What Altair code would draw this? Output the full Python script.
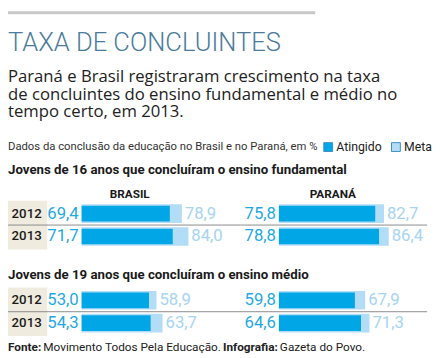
import altair as alt
import pandas as pd

# ---------------- data ----------------
title_text = "TAXA DE CONCLUINTES"
subtitle_lines = [
    "Paraná e Brasil registraram crescimento na taxa",
    "de concluintes do ensino fundamental e médio no",
    "tempo certo, em 2013.",
]
legend_caption = "Dados da conclusão da educação no Brasil e no Paraná, em %"
series = ["Atingido", "Meta"]
sections = [
    "Jovens de 16 anos que concluíram o ensino fundamental",
    "Jovens de 19 anos que concluíram o ensino médio",
]
regions = ["BRASIL", "PARANÁ"]
years = ["2012", "2013"]

fund_brasil_atingido = [69.4, 71.7]
fund_brasil_meta = [78.9, 84.0]
fund_parana_atingido = [75.8, 78.8]
fund_parana_meta = [82.7, 86.4]
medio_brasil_atingido = [53.0, 54.3]
medio_brasil_meta = [58.9, 63.7]
medio_parana_atingido = [59.8, 64.6]
medio_parana_meta = [67.9, 71.3]

footer_parts = ["Fonte:", "Movimento Todos Pela Educação.", "Infografia:", "Gazeta do Povo."]

values = {
    (0, "BRASIL"): (fund_brasil_atingido, fund_brasil_meta),
    (0, "PARANÁ"): (fund_parana_atingido, fund_parana_meta),
    (1, "BRASIL"): (medio_brasil_atingido, medio_brasil_meta),
    (1, "PARANÁ"): (medio_parana_atingido, medio_parana_meta),
}


def fmt(v):
    return f"{v:.1f}".replace(".", ",")


# ---------------- style ----------------
COND = "Roboto, sans-serif"
SANS = "Open Sans, Noto Sans, sans-serif"
C_AT = "#00a6e6"
C_META = "#b3ddf6"
C_AT_TXT = "#1fa8e2"
C_META_TXT = "#a6d4f2"
BEIGE = "#efebdf"
TITLE_C = "#4a7b9d"
W, H = 432, 350
SCALE_K = 1.295
REGION_X0 = {"BRASIL": 75, "PARANÁ": 276}
REGION_HX = {"BRASIL": 124, "PARANÁ": 331}
SECTION_Y = [(206.2, 229.5), (294.5, 317.8)]
SECTION_HEAD_Y = [162, 269]
STEP = 23.3

layers = []

# top grey line
layers.append(alt.Chart(pd.DataFrame({"a": [0]})).mark_rule(color="#c9c9c9", strokeWidth=3).encode(
    x=alt.value(0), x2=alt.value(313), y=alt.value(1.5)))

# title
layers.append(alt.Chart(pd.DataFrame({"t": [title_text]})).mark_text(
    align="left", baseline="alphabetic", font=COND, fontSize=26, fontWeight=300, color=TITLE_C).encode(
    x=alt.value(0), y=alt.value(40), text="t:N"))

# subtitle
layers.append(alt.Chart(pd.DataFrame({"t": ["\n".join(subtitle_lines)]})).mark_text(
    align="left", baseline="alphabetic", font=SANS, fontSize=17, lineHeight=18, lineBreak="\n",
    color="#222222").encode(x=alt.value(0), y=alt.value(72), text="t:N"))

# legend caption
layers.append(alt.Chart(pd.DataFrame({"t": [legend_caption]})).mark_text(
    align="left", baseline="middle", font=COND, fontSize=11.5, color="#333333").encode(
    x=alt.value(0), y=alt.value(138.5), text="t:N"))

color_enc = alt.Color("series:N", scale=alt.Scale(domain=series, range=[C_AT, C_META]),
                      legend=alt.Legend(orient="none", legendX=320, legendY=132, direction="horizontal",
                                        title=None, symbolType="square", symbolSize=81,
                                        symbolStrokeWidth=1, symbolStrokeColor="#3d8fc4",
                                        labelFont=COND, labelFontSize=12.5, labelColor="#222222",
                                        labelOffset=2, columnPadding=7, padding=0, offset=0))

for si, sec in enumerate(sections):
    c1, c2 = SECTION_Y[si]
    ys = alt.Scale(domain=years, range=[c1 - STEP / 2, c2 + STEP / 2], paddingInner=0, paddingOuter=0)
    yenc = alt.Y("year:N", scale=ys, axis=None)
    ydf = pd.DataFrame({"year": years})

    # section heading
    layers.append(alt.Chart(pd.DataFrame({"t": [sec]})).mark_text(
        align="left", baseline="middle", font=COND, fontSize=13.5, fontWeight="bold", color="#1a1a1a").encode(
        x=alt.value(0), y=alt.value(SECTION_HEAD_Y[si]), text="t:N"))

    # beige year box
    layers.append(alt.Chart(ydf).mark_bar(height=STEP + 3, color=BEIGE).encode(
        x=alt.value(0), x2=alt.value(40), y=yenc))
    # separator
    layers.append(alt.Chart(ydf).transform_filter(alt.datum.year == years[1]).mark_rule(
        color="#8a8a8a", strokeWidth=1).encode(
        x=alt.value(0), x2=alt.value(427), y=alt.Y("year:N", scale=ys, axis=None, bandPosition=0)))
    # year labels
    layers.append(alt.Chart(ydf).mark_text(
        align="center", baseline="middle", font=COND, fontSize=13.5, fontWeight=500, color="#1a1a1a").encode(
        x=alt.value(19), y=yenc, text="year:N"))

    for reg in regions:
        at, me = values[(si, reg)]
        df = pd.DataFrame({"year": years, "atingido": at, "meta": me,
                           "at_lbl": [fmt(v) for v in at], "me_lbl": [fmt(v) for v in me]})
        x0 = REGION_X0[reg]
        xs = alt.Scale(domain=[0, 100], range=[x0, x0 + 100 * SCALE_K], nice=False, zero=True)
        base = alt.Chart(df)
        layers.append(base.transform_calculate(series="'Meta'").mark_bar(height=19).encode(
            x=alt.X("meta:Q", scale=xs, axis=None), y=yenc, color=color_enc))
        layers.append(base.transform_calculate(series="'Atingido'").mark_bar(height=16).encode(
            x=alt.X("atingido:Q", scale=xs, axis=None), y=yenc, color=color_enc))
        layers.append(base.mark_text(align="right", baseline="middle", dx=-3, font=COND, fontSize=17,
                                     color=C_AT_TXT).encode(
            x=alt.XDatum(0, scale=xs, axis=None), y=yenc, text="at_lbl:N"))
        layers.append(base.mark_text(align="left", baseline="middle", dx=3, font=COND, fontSize=17,
                                     color=C_META_TXT).encode(
            x=alt.X("meta:Q", scale=xs, axis=None), y=yenc, text="me_lbl:N"))
        if si == 0:
            layers.append(alt.Chart(pd.DataFrame({"t": [reg]})).mark_text(
                align="center", baseline="middle", font=COND, fontSize=12, fontWeight="bold",
                color="#1a1a1a").encode(x=alt.value(REGION_HX[reg]), y=alt.value(186.5), text="t:N"))

# footer
footer_x = [0, 36, 219, 277]
footer_bold = [True, False, True, False]
for t, fx, b in zip(footer_parts, footer_x, footer_bold):
    layers.append(alt.Chart(pd.DataFrame({"t": [t]})).mark_text(
        align="left", baseline="middle", font=COND, fontSize=12,
        fontWeight="bold" if b else "normal", color="#222222").encode(
        x=alt.value(fx), y=alt.value(342), text="t:N"))

chart = alt.layer(*layers).resolve_scale(x="independent", y="independent").properties(
    width=W, height=H, padding=0, autosize=alt.AutoSizeParams(type="none")
).configure_view(stroke=None)

chart.save("out.html", embed_options={"renderer": "svg", "actions": False})
